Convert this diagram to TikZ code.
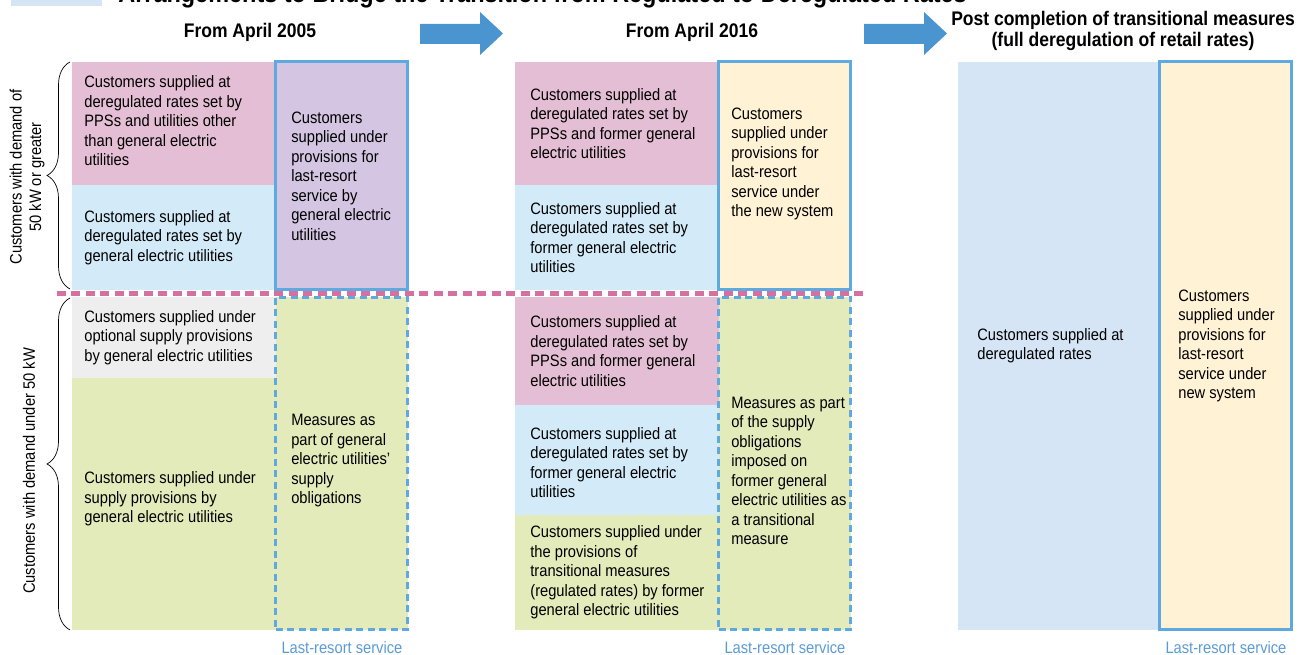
\documentclass[tikz,border=0pt]{standalone}
\usepackage{fontspec}
\setmainfont{Liberation Sans}[FakeStretch=0.89]
\usetikzlibrary{positioning}
\usetikzlibrary{decorations.pathreplacing}
\definecolor{cpink}{RGB}{228,190,212}
\definecolor{cblue}{RGB}{211,235,248}
\definecolor{cpurple}{RGB}{212,198,226}
\definecolor{cgray}{RGB}{238,238,238}
\definecolor{cgreen}{RGB}{227,235,187}
\definecolor{cyellow}{RGB}{255,242,213}
\definecolor{cpale}{RGB}{213,229,245}
\definecolor{lrblue}{RGB}{94,169,224}
\definecolor{arrowblue}{RGB}{74,148,207}
\definecolor{seppink}{RGB}{214,112,160}
\definecolor{lrtext}{RGB}{91,155,213}
\def\mypadA{0.24cm}
\def\mypadB{0.3cm}
\def\mypadC{0.38cm}
\tikzset{
semithick,
my cell/.style={rectangle,inner sep=0pt,outer sep=0pt,minimum width=4.08cm,anchor=north west},
my lr/.style={my cell,minimum width=2.64cm,draw=lrblue,line width=0.06cm},
my lr dashed/.style={my lr,dash pattern=on 0.14cm off 0.09cm},
my text/.style={align=left,inner sep=0pt,anchor=west,font=\fontsize{9.4}{11.1}\selectfont},
my side/.style={my text,anchor=center,rotate=90,align=center},
my head/.style={align=center,inner sep=0pt,font=\bfseries\fontsize{11.2}{11.6}\selectfont},
my lr label/.style={inner sep=0pt,text=lrtext,font=\fontsize{9.4}{11.1}\selectfont},
my brace/.style={decorate,decoration={brace,amplitude=0.46cm},thin},
my sep/.style={draw=seppink,line width=0.1cm,dash pattern=on 0.18cm off 0.11cm},
my arrow/.style={fill=arrowblue}
}

\begin{document}
\begin{tikzpicture}[x=0.02cm,y=-0.02cm]
\useasboundingbox (0,0) rectangle (1300,655);
\fill[cpale] (11,-10) rectangle (102,6);
\node[anchor=base west,inner sep=0pt,font=\bfseries\fontsize{15}{18}\selectfont] (title) at (118,3)
  {Arrangements to Bridge the Transition from Regulated to Deregulated Rates};
\node[my head] (head1) at (250,32) {From April 2005};
\node[my head] (head2) at (692,32) {From April 2016};
\node[my head] (head3) at (1123,31) {Post completion of transitional measures\\(full deregulation of retail rates)};
\foreach \ax in {420,864}
  \fill[my arrow] (\ax,24) -- ({\ax+60},24) -- ({\ax+60},12) -- ({\ax+83},33.5)
    -- ({\ax+60},55) -- ({\ax+60},44) -- (\ax,44) -- cycle;
% from April 2005
\node[my cell,fill=cpink,minimum height=2.46cm] (pink1) at (72,62) {};
\node[my cell,fill=cblue,minimum height=2.1cm,below=0pt of pink1] (blue1) {};
\node[my lr,fill=cpurple,minimum height=4.56cm] (lr1) at (pink1.north east) {};
\node[my cell,fill=cgray,minimum height=1.62cm] (gray1) at (72,297) {};
\node[my cell,fill=cgreen,minimum height=5.04cm,below=0pt of gray1] (green1) {};
\node[my lr dashed,fill=cgreen,minimum height=6.66cm] (lrd1) at (gray1.north east) {};
\node[my text] (tpink1) at ([xshift=\mypadA,yshift=0.05cm]pink1.west)
  {Customers supplied at\\deregulated rates set by\\PPSs and utilities other\\than general electric\\utilities};
\node[my text] (tblue1) at ([xshift=\mypadA]blue1.west)
  {Customers supplied at\\deregulated rates set by\\general electric utilities};
\node[my text] (tlr1) at ([xshift=\mypadB]lr1.west)
  {Customers\\supplied under\\provisions for\\last-resort\\service by\\general electric\\utilities};
\node[my text] (tgray1) at ([xshift=\mypadA]gray1.west)
  {Customers supplied under\\optional supply provisions\\by general electric utilities};
\node[my text] (tgreen1) at ([xshift=\mypadA,yshift=0.1cm]green1.west)
  {Customers supplied under\\supply provisions by\\general electric utilities};
\node[my text] (tlrd1) at ([xshift=\mypadB,yshift=0.05cm]lrd1.west)
  {Measures as\\part of general\\electric utilities'\\supply\\obligations};
% from April 2016
\node[my cell,fill=cpink,minimum height=2.46cm] (pink2) at (515,62) {};
\node[my cell,fill=cblue,minimum height=2.1cm,below=0pt of pink2] (blue2) {};
\node[my lr,fill=cyellow,minimum height=4.56cm] (lr2) at (pink2.north east) {};
\node[my cell,fill=cpink,minimum height=2.16cm] (pink3) at (515,297) {};
\node[my cell,fill=cblue,minimum height=2.2cm,below=0pt of pink3] (blue3) {};
\node[my cell,fill=cgreen,minimum height=2.3cm,below=0pt of blue3] (green3) {};
\node[my lr dashed,fill=cgreen,minimum height=6.66cm] (lrd2) at (pink3.north east) {};
\node[my text] (tpink2) at ([xshift=\mypadB]pink2.west)
  {Customers supplied at\\deregulated rates set by\\PPSs and former general\\electric utilities};
\node[my text] (tblue2) at ([xshift=\mypadB]blue2.west)
  {Customers supplied at\\deregulated rates set by\\former general electric\\utilities};
\node[my text] (tlr2) at ([xshift=\mypadA,yshift=0.24cm]lr2.west)
  {Customers\\supplied under\\provisions for\\last-resort\\service under\\the new system};
\node[my text] (tpink3) at ([xshift=\mypadB]pink3.west)
  {Customers supplied at\\deregulated rates set by\\PPSs and former general\\electric utilities};
\node[my text] (tblue3) at ([xshift=\mypadB,yshift=-0.05cm]blue3.west)
  {Customers supplied at\\deregulated rates set by\\former general electric\\utilities};
\node[my text] (tgreen3) at ([xshift=\mypadB]green3.west)
  {Customers supplied under\\the provisions of\\transitional measures\\(regulated rates) by former\\general electric utilities};
\node[my text] (tlrd2) at ([xshift=\mypadA,yshift=-0.15cm]lrd2.west)
  {Measures as part\\of the supply\\obligations\\imposed on\\former general\\electric utilities as\\a transitional\\measure};
% full deregulation
\node[my cell,fill=cpale,minimum width=4.04cm,minimum height=11.36cm] (pale4) at (958,62) {};
\node[my lr,fill=cyellow,minimum height=11.36cm] (lr4) at (pale4.north east) {};
\node[my text] (tpale4) at ([xshift=\mypadC]pale4.west)
  {Customers supplied at\\deregulated rates};
\node[my text] (tlr4) at ([xshift=0.36cm]lr4.west)
  {Customers\\supplied under\\provisions for\\last-resort\\service under\\new system};
% last-resort labels
\node[my lr label] (lrlbl1) at ([yshift=-0.36cm]lrd1.south) {Last-resort service};
\node[my lr label] (lrlbl2) at ([yshift=-0.36cm]lrd2.south) {Last-resort service};
\node[my lr label] (lrlbl4) at ([yshift=-0.36cm]lr4.south) {Last-resort service};
% separator and braces
\coordinate (sepL) at (57,293);
\coordinate (sepR) at (865,293);
\draw[my sep] (sepL) -- (sepR);
\draw[my brace] ([xshift=-0.04cm,yshift=0.02cm]blue1.south west) -- ([xshift=-0.04cm]pink1.north west);
\draw[my brace] ([xshift=-0.04cm]green1.south west) -- ([xshift=-0.04cm,yshift=-0.02cm]gray1.north west);
\node[my side] (side1) at (27,177) {Customers with demand of\\50 kW or greater};
\node[my side] (side2) at (29,471) {Customers with demand under 50 kW};
\end{tikzpicture}
\end{document}
